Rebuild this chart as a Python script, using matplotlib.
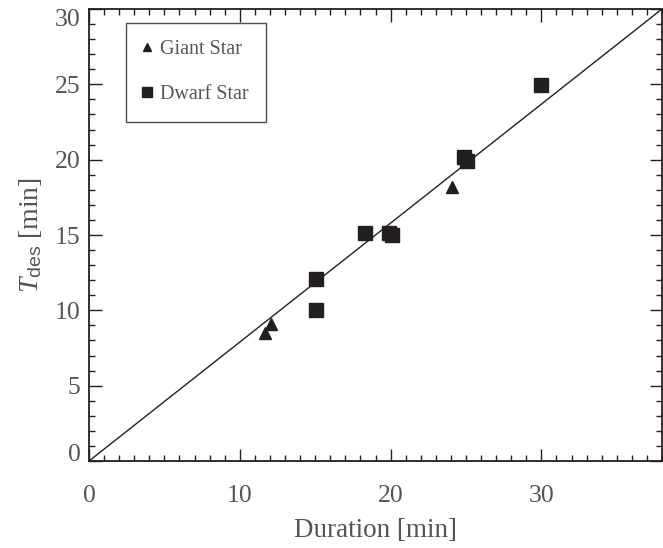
import matplotlib
matplotlib.use("Agg")
import matplotlib.pyplot as plt
from matplotlib.ticker import MultipleLocator

giant_x = [11.65, 12.05, 24.1]
giant_y = [8.5, 9.1, 18.2]
dwarf_x = [15.05, 15.05, 18.3, 19.9, 20.1, 24.9, 25.1, 30.0]
dwarf_y = [12.1, 10.0, 15.1, 15.1, 15.0, 20.2, 19.9, 24.95]
line_x = [0, 38]
line_y = [0, 30]
x_ticks = [0, 10, 20, 30]
y_ticks = [0, 5, 10, 15, 20, 25, 30]

plt.rcParams['font.family'] = ['Liberation Serif', 'DejaVu Serif']
plt.rcParams['mathtext.fontset'] = 'custom'
plt.rcParams['mathtext.it'] = 'Liberation Serif:italic'
plt.rcParams['mathtext.rm'] = 'Liberation Sans'

fig = plt.figure(figsize=(6.63, 5.48), dpi=100)
ax = fig.add_axes([89/663, 1-461/548, 573/663, 452/548])

ink = '#231f20'
txt = '#555555'
ax.plot(line_x, line_y, color=ink, lw=1.0)
ax.plot(giant_x, giant_y, linestyle='none', marker='^', color=ink, markersize=8, label='Giant Star')
ax.plot(dwarf_x, dwarf_y, linestyle='none', marker='s', color=ink, markersize=9.5, label='Dwarf Star')

ax.set_xlim(0, 38)
ax.set_ylim(0, 30)
ax.set_xticks(x_ticks)
ax.set_yticks(y_ticks)
ax.xaxis.set_minor_locator(MultipleLocator(1))
ax.yaxis.set_minor_locator(MultipleLocator(1))
ax.tick_params(which='both', direction='in', top=True, right=True, colors=ink, labelcolor=txt, labelsize=18.5, width=1.0)
ax.tick_params(which='major', length=9)
ax.tick_params(which='minor', length=4)
ax.tick_params(axis='x', which='major', pad=17)
ax.tick_params(axis='y', which='major', pad=6)
ylabels = ax.get_yticklabels()
ylabels[0].set_verticalalignment('baseline')
ylabels[-1].set_verticalalignment('top')
for s in ax.spines.values():
    s.set_color(ink)
    s.set_linewidth(1.3)

ax.set_xlabel('Duration [min]', fontsize=19.5, color=txt, labelpad=8)
ax.set_ylabel(r'$T_{\rm des}$ [min]', fontsize=20, color=txt, labelpad=8)

leg = ax.legend(loc='upper left', bbox_to_anchor=((126-89)/573, 1-(23-9)/452), frameon=True, fancybox=False,
                edgecolor=ink, fontsize=14.5, labelspacing=1.3, handlelength=0.4, handletextpad=0.45,
                borderpad=0.85, borderaxespad=0, markerscale=0.75)
for t in leg.get_texts():
    t.set_color(txt)
leg.get_frame().set_linewidth(1.0)

fig.savefig('out.png', dpi=100)
